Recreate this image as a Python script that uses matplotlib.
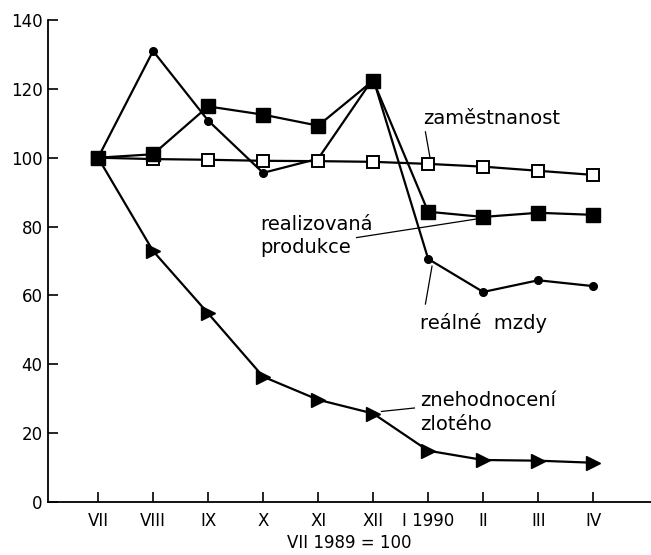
import matplotlib
matplotlib.use("Agg")
import matplotlib.pyplot as plt

months = ["VII", "VIII", "IX", "X", "XI", "XII", "I 1990", "II", "III", "IV"]
zamestnanost = [100, 99.6, 99.4, 99.1, 99.0, 98.8, 98.2, 97.4, 96.2, 95.0]
produkce = [100, 101, 114.9, 112.5, 109.3, 122.4, 84.3, 82.8, 84.0, 83.4]
mzdy = [100, 131, 110.8, 95.6, 99.7, 123, 70.6, 61, 64.4, 62.7]
zloty = [100, 72.9, 54.8, 36.4, 29.7, 25.7, 14.9, 12.2, 12.0, 11.4]

x = list(range(len(months)))

fig = plt.figure(figsize=(6.51, 5.55), dpi=100)
ax = fig.add_axes([0.0737, 0.0955, 0.9263, 0.8685])

lw = 1.6
ax.plot(x, zloty, color="black", lw=lw, marker=">", ms=10, zorder=3)
ax.plot(x, mzdy, color="black", lw=lw, marker="o", ms=5.5, zorder=3)
ax.plot(x, zamestnanost, color="black", lw=lw, marker="s", ms=9,
        mfc="white", mec="black", mew=1.4, zorder=4)
ax.plot(x, produkce, color="black", lw=lw, marker="s", ms=9.5, zorder=5)

ax.set_xlim(-0.91, 10.05)
ax.set_ylim(0, 140)
ax.set_xticks(x)
ax.set_xticklabels(months, fontsize=12)
ax.set_yticks(range(0, 141, 20))
ax.tick_params(axis="both", direction="in", length=7, width=1.2, labelsize=12)
ax.tick_params(axis="y", pad=4)
ax.tick_params(axis="x", pad=7)
for s in ["top", "right"]:
    ax.spines[s].set_visible(False)
ax.spines["left"].set_linewidth(1.3)
ax.spines["bottom"].set_linewidth(1.3)

ax.set_xlabel("VII 1989 = 100", fontsize=12, labelpad=3)

fs = 14
ax.text(5.9, 108.5, "zaměstnanost", fontsize=fs, va="bottom")
ax.plot([5.95, 6.05], [107.5, 98.5], color="black", lw=0.9)

ax.text(2.95, 83.5, "realizovaná\nprodukce", fontsize=fs, va="top", linespacing=1.3)
ax.plot([4.7, 7.0], [76.8, 82.5], color="black", lw=0.9)

ax.text(5.85, 52, "reálné  mzdy", fontsize=fs, va="center")
ax.plot([5.95, 6.07], [57.5, 68.5], color="black", lw=0.9)

ax.text(5.85, 26, "znehodnocení\nzlotého", fontsize=fs, va="center", linespacing=1.3)
ax.plot([5.15, 5.75], [26.3, 27.3], color="black", lw=0.9)

fig.savefig("out.png", dpi=100)
